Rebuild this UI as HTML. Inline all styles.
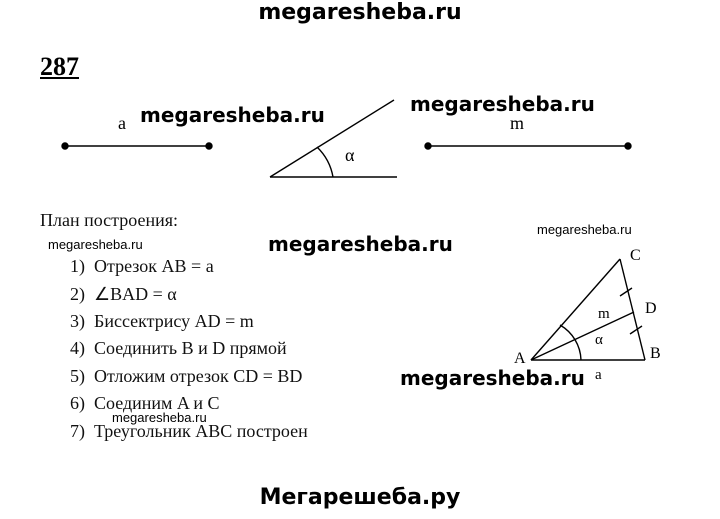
<!DOCTYPE html>
<html><head><meta charset="utf-8"><style>
body{margin:0;width:720px;height:519px;background:#fff;position:relative;overflow:hidden;font-family:"Liberation Serif",serif}
.t{position:absolute;white-space:nowrap}
.w{font-family:"DejaVu Sans","Liberation Sans",sans-serif;font-weight:bold;color:#000}
.s{font-family:"Liberation Sans",sans-serif;font-size:13px}
.l{font-size:18px;color:#111}
</style></head><body>
<svg width="720" height="519" style="position:absolute;left:0;top:0" stroke="#000" fill="none" stroke-width="1.4">
<line x1="65" y1="146" x2="209" y2="146"/><circle cx="65" cy="146" r="3" fill="#000"/><circle cx="209" cy="146" r="3" fill="#000"/>
<line x1="428" y1="146" x2="628" y2="146"/><circle cx="428" cy="146" r="3" fill="#000"/><circle cx="628" cy="146" r="3" fill="#000"/>
<line x1="270" y1="177" x2="397" y2="177"/><line x1="270" y1="177" x2="394" y2="100"/>
<path d="M317 147 A55 55 0 0 1 333 177"/>
<line x1="531" y1="360" x2="645" y2="360"/><line x1="531" y1="360" x2="620" y2="259"/><line x1="620" y1="259" x2="645" y2="360"/>
<line x1="531" y1="360" x2="634" y2="312"/>
<path d="M560 325 A42 42 0 0 1 581 360"/>
<line x1="620" y1="296" x2="632" y2="288"/><line x1="630" y1="334" x2="642" y2="326"/>
</svg>
<div class="t w" style="left:0;width:720px;text-align:center;top:0px;font-size:22px">megaresheba.ru</div>
<div class="t" style="left:40px;top:52px;font-size:26px;font-weight:bold;text-decoration:underline">287</div>
<div class="t" style="left:118px;top:113px;font-size:18px">a</div>
<div class="t w" style="left:140px;top:103px;font-size:20px">megaresheba.ru</div>
<div class="t w" style="left:410px;top:92px;font-size:20px">megaresheba.ru</div>
<div class="t" style="left:345px;top:145px;font-size:18px">α</div>
<div class="t" style="left:510px;top:113px;font-size:18px">m</div>
<div class="t l" style="left:40px;top:210px">План построения:</div>
<div class="t s" style="left:48px;top:237px">megaresheba.ru</div>
<div class="t w" style="left:268px;top:232px;font-size:20px">megaresheba.ru</div>
<div class="t s" style="left:537px;top:222px">megaresheba.ru</div>
<div class="t l" style="left:70px;top:256px">1)&nbsp; Отрезок AB = a</div>
<div class="t l" style="left:70px;top:284px">2)&nbsp; ∠BAD = α</div>
<div class="t l" style="left:70px;top:311px">3)&nbsp; Биссектрису AD = m</div>
<div class="t l" style="left:70px;top:338px">4)&nbsp; Соединить B и D прямой</div>
<div class="t l" style="left:70px;top:366px">5)&nbsp; Отложим отрезок CD = BD</div>
<div class="t l" style="left:70px;top:393px">6)&nbsp; Соединим A и C</div>
<div class="t s" style="left:112px;top:410px">megaresheba.ru</div>
<div class="t l" style="left:70px;top:421px">7)&nbsp; Треугольник ABC построен</div>
<div class="t" style="left:630px;top:247px;font-size:16px">C</div>
<div class="t" style="left:645px;top:300px;font-size:16px">D</div>
<div class="t" style="left:650px;top:345px;font-size:16px">B</div>
<div class="t" style="left:514px;top:350px;font-size:16px">A</div>
<div class="t" style="left:598px;top:306px;font-size:15px">m</div>
<div class="t" style="left:595px;top:332px;font-size:15px">α</div>
<div class="t" style="left:595px;top:367px;font-size:15px">a</div>
<div class="t w" style="left:400px;top:366px;font-size:20px">megaresheba.ru</div>
<div class="t w" style="left:0;width:720px;text-align:center;top:485px;font-size:22px">Мегарешеба.ру</div>
</body></html>
